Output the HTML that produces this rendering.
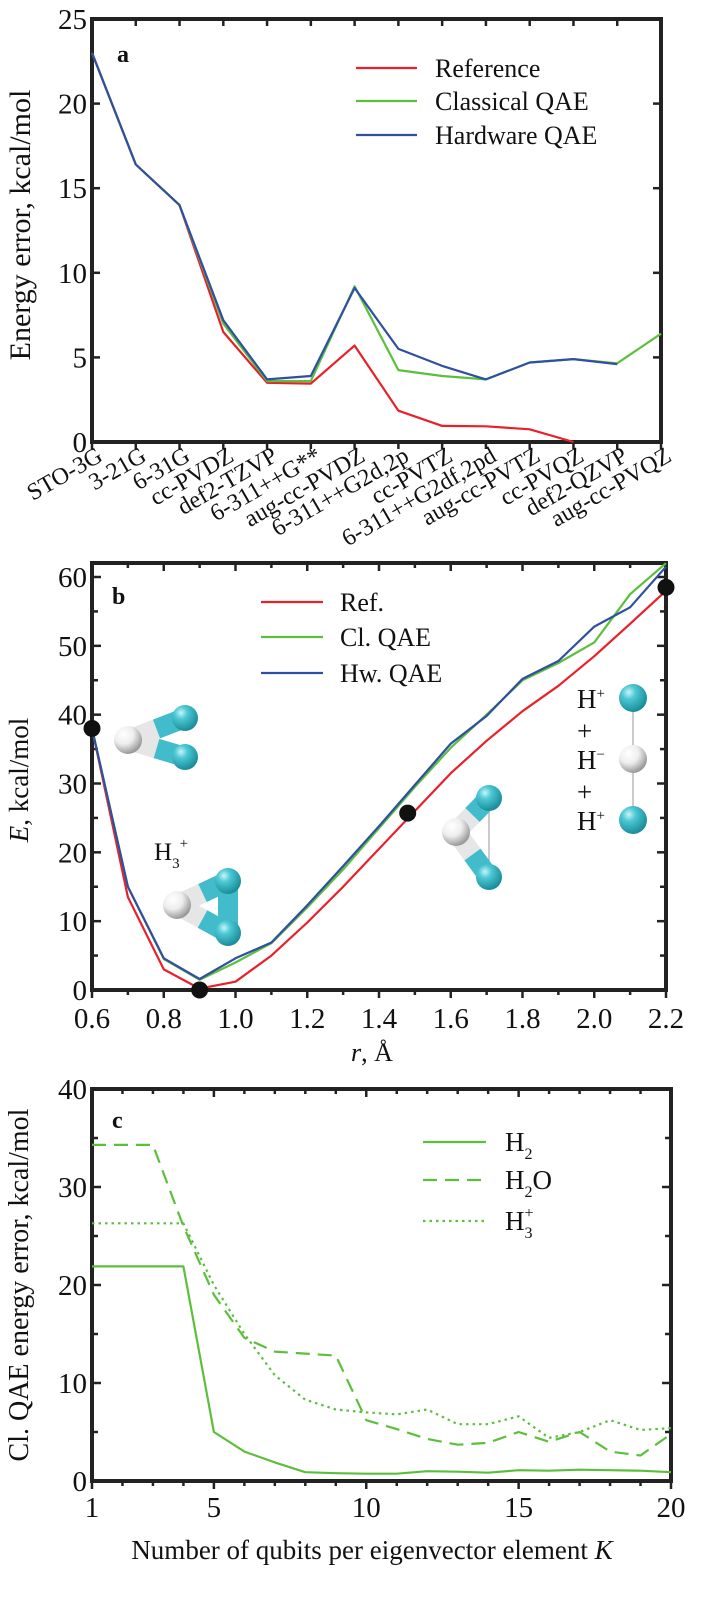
<!DOCTYPE html>
<html><head><meta charset="utf-8"><style>
html,body{margin:0;padding:0;background:#fff;}
svg{display:block;font-family:"Liberation Serif",serif;}
</style></head><body>
<svg id="fig" width="701" height="1615" viewBox="0 0 701 1615" xmlns="http://www.w3.org/2000/svg">
<defs>
<radialGradient id="gc" cx="35%" cy="30%" r="70%"><stop offset="0" stop-color="#c8f4f8"/><stop offset="0.35" stop-color="#4cc8d4"/><stop offset="1" stop-color="#1a8e9a"/></radialGradient>
<radialGradient id="gw" cx="35%" cy="30%" r="70%"><stop offset="0" stop-color="#ffffff"/><stop offset="0.5" stop-color="#eeeeee"/><stop offset="1" stop-color="#9a9a9a"/></radialGradient>
</defs>
<g id="pa"></g>
<g id="pb"></g>
<g id="pc"></g>
</svg>
<script>
// Panel a data
const aCategories = ["STO-3G","3-21G","6-31G","cc-PVDZ","def2-TZVP","6-311++G**","aug-cc-PVDZ","6-311++G2d,2p","cc-PVTZ","6-311++G2df,2pd","aug-cc-PVTZ","cc-PVQZ","def2-QZVP","aug-cc-PVQZ"];
const aReference = [23, 16.4, 14, 6.5, 3.5, 3.45, 5.7, 1.85, 0.95, 0.93, 0.75, 0];
const aClassical = [23, 16.4, 14, 7.0, 3.6, 3.6, 9.2, 4.25, 3.9, 3.7, 4.7, 4.9, 4.65, 6.4];
const aHardware = [23, 16.4, 14, 7.2, 3.7, 3.9, 9.1, 5.5, 4.5, 3.7, 4.7, 4.9, 4.6];
const aYTicks = [0, 5, 10, 15, 20, 25];
// Panel b data
const bR = [0.6,0.7,0.8,0.9,1.0,1.1,1.2,1.3,1.4,1.5,1.6,1.7,1.8,1.9,2.0,2.1,2.2];
const bRef = [38, 13.5, 3, 0.2, 1.2, 5, 9.8, 15, 20.5, 26, 31.5, 36.2, 40.5, 44.2, 48.5, 53.2, 58];
const bCl = [38, 15, 4.5, 1.5, 4, 6.8, 12, 17.5, 23.5, 29.5, 35.2, 40, 45, 47.5, 50.5, 57.5, 62];
const bHw = [38, 15, 4.6, 1.6, 4.6, 6.9, 12.3, 18, 23.8, 29.8, 35.8, 39.8, 45.2, 47.8, 52.8, 55.6, 61.5];
const bDotR = [0.6, 0.9, 1.48, 2.2];
const bDotE = [38, 0, 25.7, 58.5];
const bXTicks = ["0.6","0.8","1.0","1.2","1.4","1.6","1.8","2.0","2.2"];
const bYTicks = [0, 10, 20, 30, 40, 50, 60];
// Panel c data
const cK = [1,2,3,4,5,6,7,8,9,10,11,12,13,14,15,16,17,18,19,20];
const cH2 = [21.9,21.9,21.9,21.9,5,3,1.9,0.9,0.8,0.75,0.75,1,0.95,0.85,1.1,1.05,1.15,1.1,1.05,0.9];
const cH2O = [34.3,34.3,34.3,26,19,14.6,13.2,13,12.8,6.2,5.3,4.3,3.7,3.9,5,4,5,3,2.6,4.8];
const cH3 = [26.3,26.3,26.3,26.3,20,15,10.8,8.3,7.3,7,6.8,7.3,5.8,5.8,6.6,4.4,5,6.2,5.2,5.4];
const cXTicks = [1, 5, 10, 15, 20];
const cYTicks = [0, 10, 20, 30, 40];

const NS = "http://www.w3.org/2000/svg";
function mk(parent, tag, attrs, text) {
  const e = document.createElementNS(NS, tag);
  for (const k in attrs) e.setAttribute(k, attrs[k]);
  if (text !== undefined) e.textContent = text;
  parent.appendChild(e);
  return e;
}
function line(parent, xs, ys, color, dash, name) {
  let d = "";
  for (let i = 0; i < xs.length; i++) d += (i ? "L" : "M") + xs[i].toFixed(1) + "," + ys[i].toFixed(1);
  const p = mk(parent, "path", {d: d, fill: "none", stroke: color, "stroke-width": 2.2, "stroke-linejoin": "round"});
  if (dash) p.setAttribute("stroke-dasharray", dash);
  
  
  return p;
}
function frame(g, L, R, T, B, name) {
  const f = mk(g, "rect", {x: L, y: T, width: R - L, height: B - T, fill: "none", stroke: "#222", "stroke-width": 4});
  
  
}
function tick(g, x1, y1, x2, y2) {
  const t = mk(g, "line", {x1: x1, y1: y1, x2: x2, y2: y2, stroke: "#222", "stroke-width": 2.5});
  
  
}
function txt(g, x, y, s, size, anchor, name, extra) {
  const t = mk(g, "text", Object.assign({x: x, y: y, "font-size": size, "text-anchor": anchor || "start", fill: "#111"}, extra || {}), s);
  
  
  return t;
}
function legend(g, x1, x2, tx, y, color, dash, label, size, name) {
  const l = mk(g, "line", {x1: x1, y1: y, x2: x2, y2: y, stroke: color, "stroke-width": 2.2});
  if (dash) l.setAttribute("stroke-dasharray", dash);
  
  
  const t = txt(g, tx, y + 9, "", size, "start", name + '-label');
  t.innerHTML = label;
  return t;
}
const RED = "#e8202a", GREEN = "#5cbf3c", BLUE = "#2f4fa0";

// ---------- Panel a ----------
(function () {
  const g = document.getElementById("pa");
  const L = 92, R = 661, T = 19, B = 442;
  const x = i => L + i * (R - L) / (aCategories.length - 1);
  const y = v => B - v * (B - T) / 25;
  frame(g, L, R, T, B, "plot-frame-a");
  aYTicks.forEach(v => {
    tick(g, L, y(v), L + 8, y(v)); tick(g, R, y(v), R - 8, y(v));
    txt(g, L - 5, y(v) + 10, String(v), 29, "end", "y-tick-label-a");
  });
  aCategories.forEach((c, i) => {
    tick(g, x(i), B, x(i), B + 7); tick(g, x(i), T, x(i), T + 7);
    txt(g, x(i) + 12, B + 18, c, 24, "end", "x-tick-label-a", {transform: `rotate(-30 ${x(i) + 12} ${B + 18})`});
  });
  line(g, aReference.map((v, i) => x(i)), aReference.map(y), RED, null, "reference-line-a");
  line(g, aClassical.map((v, i) => x(i)), aClassical.map(y), GREEN, null, "classical-qae-line-a");
  line(g, aHardware.map((v, i) => x(i)), aHardware.map(y), BLUE, null, "hardware-qae-line-a");
  txt(g, 117, 62, "a", 24, "start", "panel-label-a", {"font-weight": "bold"});
  legend(g, 356, 417, 435, 68, RED, null, "Reference", 26, "legend-reference");
  legend(g, 356, 417, 435, 101, GREEN, null, "Classical QAE", 26, "legend-classical-qae");
  legend(g, 356, 417, 435, 135, BLUE, null, "Hardware QAE", 26, "legend-hardware-qae");
  txt(g, 30, 225, "Energy error, kcal/mol", 30, "middle", "y-axis-title-a", {transform: "rotate(-90 30 225)"});
})();

// ---------- Panel b ----------
(function () {
  const g = document.getElementById("pb");
  const L = 92, R = 666, T = 563, B = 990;
  const x = r => L + (r - 0.6) * (R - L) / 1.6;
  const y = v => B - v * (B - 577) / 60;
  frame(g, L, R, T, B, "plot-frame-b");
  for (let v = 0; v <= 60; v += 5) { tick(g, L, y(v), L + (v % 10 ? 6 : 9), y(v)); tick(g, R, y(v), R - (v % 10 ? 6 : 9), y(v)); }
  bYTicks.forEach(v => txt(g, L - 5, y(v) + 10, String(v), 29, "end", "y-tick-label-b"));
  for (let i = 0; i <= 16; i++) { const r = 0.6 + i * 0.1; tick(g, x(r), B, x(r), B + (i % 2 ? 5 : 8)); tick(g, x(r), T, x(r), T + (i % 2 ? 5 : 8)); }
  bXTicks.forEach(s => txt(g, x(parseFloat(s)), 1028, s, 29, "middle", "x-tick-label-b"));
  function mol(name, atoms, bonds, thin) {
    const m = mk(g, "g", {});
    
    
    (thin || []).forEach(b => mk(m, "line", {x1: atoms[b[0]][0], y1: atoms[b[0]][1], x2: atoms[b[1]][0], y2: atoms[b[1]][1], stroke: "#999", "stroke-width": 1}));
    bonds.forEach(b => {
      const a = atoms[b[0]], c = atoms[b[1]];
      const mx = (a[0] + c[0]) / 2, my = (a[1] + c[1]) / 2;
      mk(m, "line", {x1: a[0], y1: a[1], x2: mx, y2: my, stroke: a[2] ? "#42bccb" : "#e6e6e6", "stroke-width": 20});
      mk(m, "line", {x1: mx, y1: my, x2: c[0], y2: c[1], stroke: c[2] ? "#42bccb" : "#e6e6e6", "stroke-width": 20});
    });
    atoms.forEach(a => mk(m, "circle", {cx: a[0], cy: a[1], r: a[3] || 13, fill: a[2] ? "url(#gc)" : "url(#gw)"}));
  }
  mol("molecule-h3-open", [[128, 740, 0, 14], [185, 718, 1], [185, 757, 1]], [[0, 1], [0, 2]]);
  mol("molecule-h3-triangle", [[177, 905, 0, 14], [228, 881, 1], [228, 933, 1]], [[0, 1], [0, 2], [1, 2]]);
  mol("molecule-h3-stretched", [[456, 832, 0, 14], [489, 798, 1], [489, 877, 1]], [[0, 1], [0, 2]], [[1, 2]]);
  mol("molecule-h3-dissociated", [[633, 698, 1, 14], [633, 759, 0, 14], [633, 820, 1, 14]], [], [[0, 1], [1, 2]]);
  txt(g, 577, 708, "", 27, "start", "h-plus-label-1").innerHTML = 'H<tspan font-size="15" dy="-10">+</tspan>';
  txt(g, 577, 740, "+", 27, "start", "plus-sign-1");
  txt(g, 577, 769, "", 27, "start", "h-minus-label").innerHTML = 'H<tspan font-size="15" dy="-10">−</tspan>';
  txt(g, 577, 801, "+", 27, "start", "plus-sign-2");
  txt(g, 577, 830, "", 27, "start", "h-plus-label-2").innerHTML = 'H<tspan font-size="15" dy="-10">+</tspan>';
  txt(g, 154, 860, "", 25, "start", "h3-plus-label").innerHTML = 'H<tspan font-size="15" dy="8">3</tspan><tspan font-size="15" dy="-20">+</tspan>';
  line(g, bR.map(x), bRef.map(y), RED, null, "ref-line-b");
  line(g, bR.map(x), bCl.map(y), GREEN, null, "cl-qae-line-b");
  line(g, bR.map(x), bHw.map(y), BLUE, null, "hw-qae-line-b");
  bDotR.forEach((r, i) => {
    const c = mk(g, "circle", {cx: x(r), cy: y(bDotE[i]), r: 8.5, fill: "#111"});
    
    
  });
  txt(g, 112, 604, "b", 24, "start", "panel-label-b", {"font-weight": "bold"});
  legend(g, 261, 323, 340, 602, RED, null, "Ref.", 26, "legend-ref");
  legend(g, 261, 323, 340, 637, GREEN, null, "Cl. QAE", 26, "legend-cl-qae");
  legend(g, 261, 323, 340, 673, BLUE, null, "Hw. QAE", 26, "legend-hw-qae");
  txt(g, 28, 780, "", 27, "middle", "y-axis-title-b", {transform: "rotate(-90 28 780)"}).innerHTML = '<tspan font-style="italic">E</tspan>, kcal/mol';
  txt(g, 372, 1061, "", 26, "middle", "x-axis-title-b").innerHTML = '<tspan font-style="italic">r</tspan>, Å';
})();

// ---------- Panel c ----------
(function () {
  const g = document.getElementById("pc");
  const L = 92, R = 671, T = 1089, B = 1481;
  const x = k => L + (k - 1) * (R - L) / 19;
  const y = v => B - v * (B - T) / 40;
  frame(g, L, R, T, B, "plot-frame-c");
  for (let v = 0; v <= 40; v += 5) { tick(g, L, y(v), L + (v % 10 ? 6 : 9), y(v)); tick(g, R, y(v), R - (v % 10 ? 6 : 9), y(v)); }
  cYTicks.forEach(v => txt(g, L - 5, y(v) + 10, String(v), 29, "end", "y-tick-label-c"));
  for (let k = 1; k <= 20; k++) { const big = cXTicks.indexOf(k) >= 0; tick(g, x(k), B, x(k), B + (big ? 8 : 5)); tick(g, x(k), T, x(k), T + (big ? 8 : 5)); }
  cXTicks.forEach(k => txt(g, x(k), 1517, String(k), 29, "middle", "x-tick-label-c"));
  line(g, cK.map(x), cH2.map(y), GREEN, null, "h2-line");
  line(g, cK.map(x), cH2O.map(y), GREEN, "14,8", "h2o-line");
  line(g, cK.map(x), cH3.map(y), GREEN, "2.5,4", "h3-plus-line");
  txt(g, 112, 1128, "c", 24, "start", "panel-label-c", {"font-weight": "bold"});
  legend(g, 423, 486, 505, 1142, GREEN, null, 'H<tspan font-size="16" dy="8">2</tspan>', 27, "legend-h2");
  legend(g, 423, 486, 505, 1180, GREEN, "14,8", 'H<tspan font-size="16" dy="8">2</tspan><tspan dy="-8">O</tspan>', 27, "legend-h2o");
  legend(g, 423, 486, 505, 1221, GREEN, "2.5,4", 'H<tspan font-size="16" dy="8">3</tspan><tspan font-size="16" dy="-20" dx="-8">+</tspan>', 27, "legend-h3-plus");
  txt(g, 28, 1285, "Cl. QAE energy error, kcal/mol", 28, "middle", "y-axis-title-c", {transform: "rotate(-90 28 1285)"});
  txt(g, 372, 1559, "", 27, "middle", "x-axis-title-c").innerHTML = 'Number of qubits per eigenvector element <tspan font-style="italic">K</tspan>';
})();
</script>
</body></html>
